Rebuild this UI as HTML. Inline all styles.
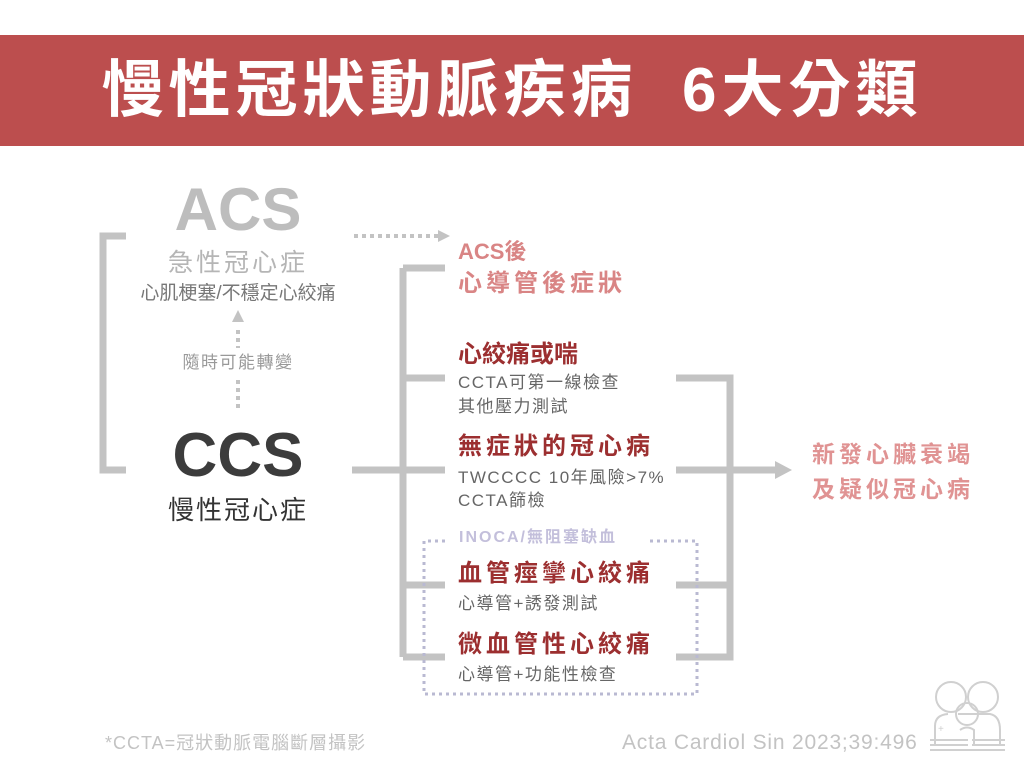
<!DOCTYPE html>
<html><head><meta charset="utf-8"><style>
body{margin:0;width:1024px;height:768px;background:#fff;position:relative;overflow:hidden;font-family:"Liberation Sans","Noto Sans CJK TC",sans-serif}
.t{position:absolute;white-space:nowrap;line-height:1}
.hdr{position:absolute;left:0;top:35px;width:1024px;height:111px;background:#bc4e4e}
.r{color:#9c2f30;font-weight:bold;font-size:24px;letter-spacing:4px}
.s{color:#666;font-size:17px;letter-spacing:1.5px}
</style></head><body>
<div class="hdr"></div>
<div class="t" style="left:0;width:1024px;text-align:center;top:60px;color:#fff;font-size:62px;font-weight:bold;letter-spacing:5px">慢性冠狀動脈疾病&nbsp; 6大分類</div>
<svg width="1024" height="768" style="position:absolute;left:0;top:0">
<g stroke="#c3c3c3" stroke-width="7" fill="none">
<path d="M126 236H103V470H126"/>
<path d="M352 470H445M403 268V657M403 268H445M403 378H445M403 585H445M403 657H445"/>
<path d="M676 378H730V657H676M676 470H700M676 585H730M676 657H730"/>
<path d="M700 470H775"/>
</g>
<polygon points="775,461 792,470 775,479" fill="#c3c3c3"/>
<g stroke="#c3c3c3" stroke-width="4" stroke-dasharray="4 4" fill="none">
<path d="M354 236H438"/><path d="M238 330V348M238 380V410"/>
</g>
<polygon points="438,230 450,236 438,242" fill="#c3c3c3"/>
<polygon points="232,322 238,310 244,322" fill="#c3c3c3"/>
<path d="M445 541H424V694H697V541H650" stroke="#b9b9d2" stroke-width="3" stroke-dasharray="3 4" fill="none"/>
<g fill="none" stroke="#d0d0d0" stroke-width="2">
<circle cx="951" cy="697" r="15"/><circle cx="983" cy="697" r="15"/><circle cx="967" cy="714" r="11"/>
<path d="M935 745V726Q935 715 948 714M958 714H990Q1000 716 1000 730V745M960 730Q967 725 974 730V745"/>
<path d="M930 740H968M972 740H1005M930 745H968M972 745H1005M930 750H1005"/>
</g>
<text x="938" y="732" fill="#d0d0d0" font-size="10">+</text>
</svg>
<div class="t" style="left:128px;width:220px;text-align:center;top:180px;color:#bdbdbd;font-size:60px;font-weight:bold">ACS</div>
<div class="t" style="left:128px;width:220px;text-align:center;top:251px;color:#b5b5b5;font-size:25px;letter-spacing:3px">急性冠心症</div>
<div class="t" style="left:128px;width:220px;text-align:center;top:284px;color:#777;font-size:19px">心肌梗塞/不穩定心絞痛</div>
<div class="t" style="left:128px;width:220px;text-align:center;top:354px;color:#999;font-size:17px;letter-spacing:1.5px">隨時可能轉變</div>
<div class="t" style="left:128px;width:220px;text-align:center;top:425px;color:#3c3c3c;font-size:62px;font-weight:bold">CCS</div>
<div class="t" style="left:128px;width:220px;text-align:center;top:497px;color:#333;font-size:26px;letter-spacing:2px">慢性冠心症</div>
<div class="t" style="left:458px;top:241px;color:#d98585;font-size:22px;font-weight:bold">ACS後</div>
<div class="t" style="left:458px;top:272px;color:#d98585;font-size:24px;font-weight:bold;letter-spacing:4px">心導管後症狀</div>
<div class="t r" style="left:458px;top:343px;letter-spacing:0">心絞痛或喘</div>
<div class="t s" style="left:458px;top:374px">CCTA可第一線檢查</div>
<div class="t s" style="left:458px;top:398px">其他壓力測試</div>
<div class="t r" style="left:458px;top:435px">無症狀的冠心病</div>
<div class="t s" style="left:458px;top:469px">TWCCCC 10年風險&gt;7%</div>
<div class="t s" style="left:458px;top:492px">CCTA篩檢</div>
<div class="t" style="left:459px;top:530px;color:#c3bfdb;font-size:16px;font-weight:bold;letter-spacing:2px">INOCA/無阻塞缺血</div>
<div class="t r" style="left:458px;top:562px">血管痙攣心絞痛</div>
<div class="t s" style="left:458px;top:595px">心導管+誘發測試</div>
<div class="t r" style="left:458px;top:633px">微血管性心絞痛</div>
<div class="t s" style="left:458px;top:666px">心導管+功能性檢查</div>
<div class="t" style="left:795px;width:196px;text-align:center;top:443px;color:#e09393;font-size:23px;font-weight:bold;letter-spacing:4px">新發心臟衰竭</div>
<div class="t" style="left:795px;width:196px;text-align:center;top:478px;color:#e09393;font-size:23px;font-weight:bold;letter-spacing:4px">及疑似冠心病</div>
<div class="t" style="left:105px;top:734px;color:#c3c3c3;font-size:18px;letter-spacing:1px">*CCTA=冠狀動脈電腦斷層攝影</div>
<div class="t" style="left:622px;top:732px;color:#c3c3c3;font-size:21px;letter-spacing:0.8px">Acta Cardiol Sin 2023;39:496</div>
</body></html>
